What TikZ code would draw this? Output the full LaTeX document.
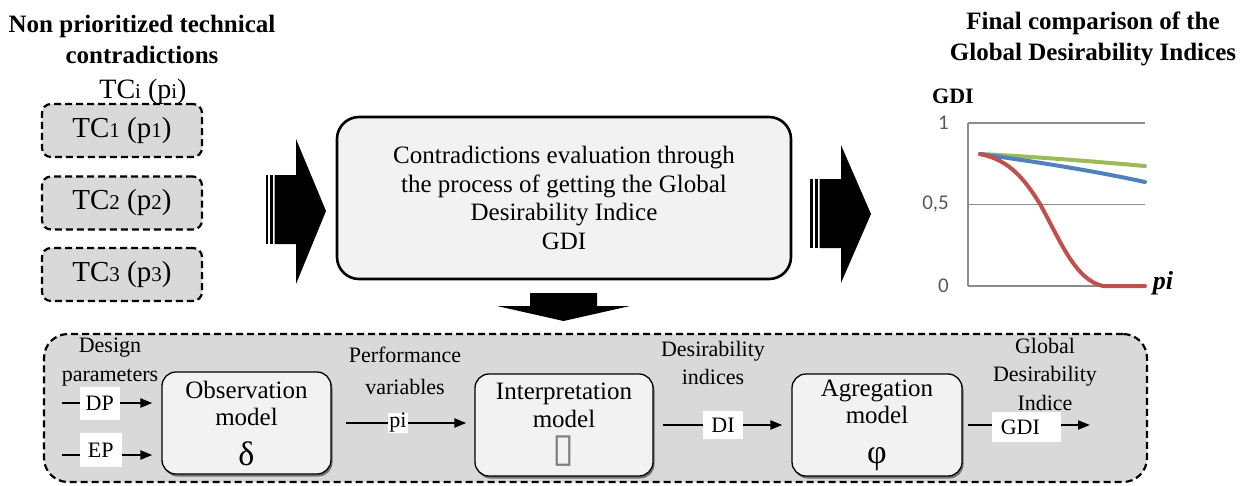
\documentclass[tikz,border=0pt]{standalone}
\usepackage{fontspec}
\setmainfont{Liberation Serif}
\newfontfamily\chartfont{Carlito}
\newfontfamily\glyphfont{DejaVu Sans}
\usetikzlibrary{arrows.meta,shadows}

\definecolor{grisbox}{HTML}{D9D9D9}
\definecolor{grisclaro}{HTML}{F2F2F2}
\definecolor{grisrejilla}{HTML}{8C8C8C}
\definecolor{grisletra}{HTML}{595959}
\definecolor{verde}{HTML}{9BBB59}
\definecolor{azul}{HTML}{4F81BD}
\definecolor{rojo}{HTML}{C0504D}

\newcommand{\tcidx}[1]{{\fontsize{21}{21}\selectfont #1}}

\tikzset{
  titulo/.style={font=\bfseries\fontsize{25}{31}\selectfont, align=center, inner sep=0pt},
  tcbox/.style={draw, line width=2.2pt, dash pattern=on 7pt off 4pt, fill=grisbox,
    rounded corners=9pt, minimum width=160pt, minimum height=53pt, inner sep=0pt,
    font=\fontsize{29}{29}\selectfont},
  evalbox/.style={draw, line width=2.6pt, fill=grisclaro, rounded corners=22pt,
    minimum width=454pt, minimum height=162pt, align=center, inner sep=0pt,
    font=\fontsize{25}{28.5}\selectfont},
  contenedor/.style={draw, line width=2.2pt, dash pattern=on 7pt off 4pt, fill=grisbox,
    rounded corners=24pt, minimum width=1103pt, minimum height=148pt, inner sep=0pt},
  modelo/.style={draw, line width=1.3pt, fill=grisclaro, rounded corners=14pt,
    minimum height=102pt, align=center, inner sep=0pt,
    font=\fontsize{25}{27.5}\selectfont,
    drop shadow={shadow xshift=1.5pt, shadow yshift=-2.5pt, fill=black!55, opacity=1}},
  nota/.style={font=\fontsize{22}{28.5}\selectfont, align=center, inner sep=0pt},
  etiqueta/.style={fill=white, inner sep=0pt, font=\fontsize{22}{22}\selectfont},
  flujo/.style={line width=2.2pt, -{Triangle[length=12pt,width=9pt]}},
  rejilla/.style={grisrejilla, line width=1.2pt},
  chartlbl/.style={font=\chartfont\fontsize{21}{21}\selectfont, text=grisletra, inner sep=0pt},
  curva/.style={line width=4pt, line cap=round}
}

\begin{document}
\begin{tikzpicture}[x=1pt,y=-1pt]
    \useasboundingbox (0,0) rectangle (1254,485);
    % Titulos
    \node[titulo] (tituloizq) at (142,39) {Non prioritized technical\\contradictions};
    \node[titulo] (tituloder) at (1093,39) {Final comparison of the\\Global Desirability Indices};
    % Contradicciones tecnicas
    \node[font=\fontsize{28}{28}\selectfont, inner sep=0pt, anchor=base] (tci) at (143,98) {TC\tcidx{i} (p\tcidx{i})};
    \node[tcbox] (tc1) at (122,130.5) {TC\tcidx{1} (p\tcidx{1})};
    \node[tcbox] (tc2) at (122,203) {TC\tcidx{2} (p\tcidx{2})};
    \node[tcbox] (tc3) at (122,274.5) {TC\tcidx{3} (p\tcidx{3})};
    % Flecha de entrada
    \fill (266,175) rectangle (268,244);
    \fill (269.5,175) rectangle (272.5,244);
    \fill (274.5,175) -- (296,175) -- (296,139) -- (326,211) -- (296,284) -- (296,244) -- (274.5,244) -- cycle;
    % Evaluacion
    \node[evalbox] (eval) at (564,198) {Contradictions evaluation through\\the process of getting the Global\\Desirability Indice\\GDI};
    % Flecha de salida
    \fill (810,179) rectangle (813,248);
    \fill (815,179) rectangle (818,248);
    \fill (819.5,179) -- (841,179) -- (841,145) -- (871,214) -- (841,283) -- (841,248) -- (819.5,248) -- cycle;
    % Flecha hacia abajo
    \fill (530,293) -- (597,293) -- (597,306) -- (630,306) -- (563.5,321) -- (497,306) -- (530,306) -- cycle;
    % Grafico
    \foreach \yy/\lab [count=\k] in {123/1, 204.5/{0,5}, 286/0}{
        \draw[rejilla] (968,\yy) -- (1145,\yy);
        \node[chartlbl, anchor=east] (eje\k) at (949,\yy) {\lab};
    }
    \draw[rejilla] (968,123) -- (968,286);
    \node[font=\bfseries\fontsize{22}{22}\selectfont, inner sep=0pt] (gdieje) at (953,96) {GDI};
    \node[font=\bfseries\itshape\fontsize{26}{26}\selectfont, inner sep=0pt] (pieje) at (1163,283) {pi};
    \draw[curva, verde] (980,154) .. controls (1040,157) and (1100,162) .. (1145,166);
    \draw[curva, azul] (980,154) .. controls (1030,161) and (1090,170) .. (1145,182);
    \draw[curva, rojo] (980,154) .. controls (1010,160) and (1025,180) .. (1040,204)
        .. controls (1060,240) and (1075,280) .. (1103,286) -- (1145,286);
    % Proceso
    \node[contenedor] (proceso) at (595.5,408) {};
    \node[modelo, minimum width=169pt] (obs) at (246.5,423) {Observation\\model\\[12pt]{\fontsize{34}{34}\selectfont δ}};
    \node[modelo, minimum width=178pt] (interp) at (564,425) {Interpretation\\model\\[7pt]{\glyphfont\color{gray}\fontsize{40}{40}\selectfont ▯}};
    \node[modelo, minimum width=170pt] (agreg) at (877,425) {Agregation\\model\\[12pt]{\fontsize{34}{34}\selectfont φ}};
    % Rotulos
    \node[nota] (dplab) at (110,362) {Design\\parameters};
    \node[nota] (pvlab) at (405,371) {Performance\\[4pt]variables};
    \node[nota] (dilab) at (713,363) {Desirability\\indices};
    \node[nota] (gdilab) at (1045,374) {Global\\Desirability\\Indice};
    % Flujos
    \coordinate (dpin) at (62,403);
    \coordinate (epin) at (62,455);
    \coordinate (gdiout) at (1090,425);
    \draw[flujo, shorten >=9pt] (dpin) -- (dpin -| obs.west)
        node[etiqueta, pos=0.38, minimum width=40pt, minimum height=33pt] (dp) {DP};
    \draw[flujo, shorten >=9pt] (epin) -- (epin -| obs.west)
        node[etiqueta, pos=0.39, yshift=5pt, minimum width=42pt, minimum height=34pt] (ep) {EP};
    \draw[flujo, shorten <=14pt, shorten >=8pt] (obs.east) -- (obs.east -| interp.west)
        node[etiqueta, pos=0.465, minimum width=20pt, minimum height=20pt] (pi) {pi};
    \draw[flujo, shorten <=9pt, shorten >=9pt] (interp.east) -- (agreg.west)
        node[etiqueta, pos=0.504, minimum width=40pt, minimum height=28pt] (di) {DI};
    \draw[flujo, shorten <=5pt] (agreg.east) -- (gdiout)
        node[etiqueta, pos=0.504, yshift=-2pt, minimum width=69pt, minimum height=30pt, text width=52pt, align=left] (gdi) {GDI};
\end{tikzpicture}
\end{document}
